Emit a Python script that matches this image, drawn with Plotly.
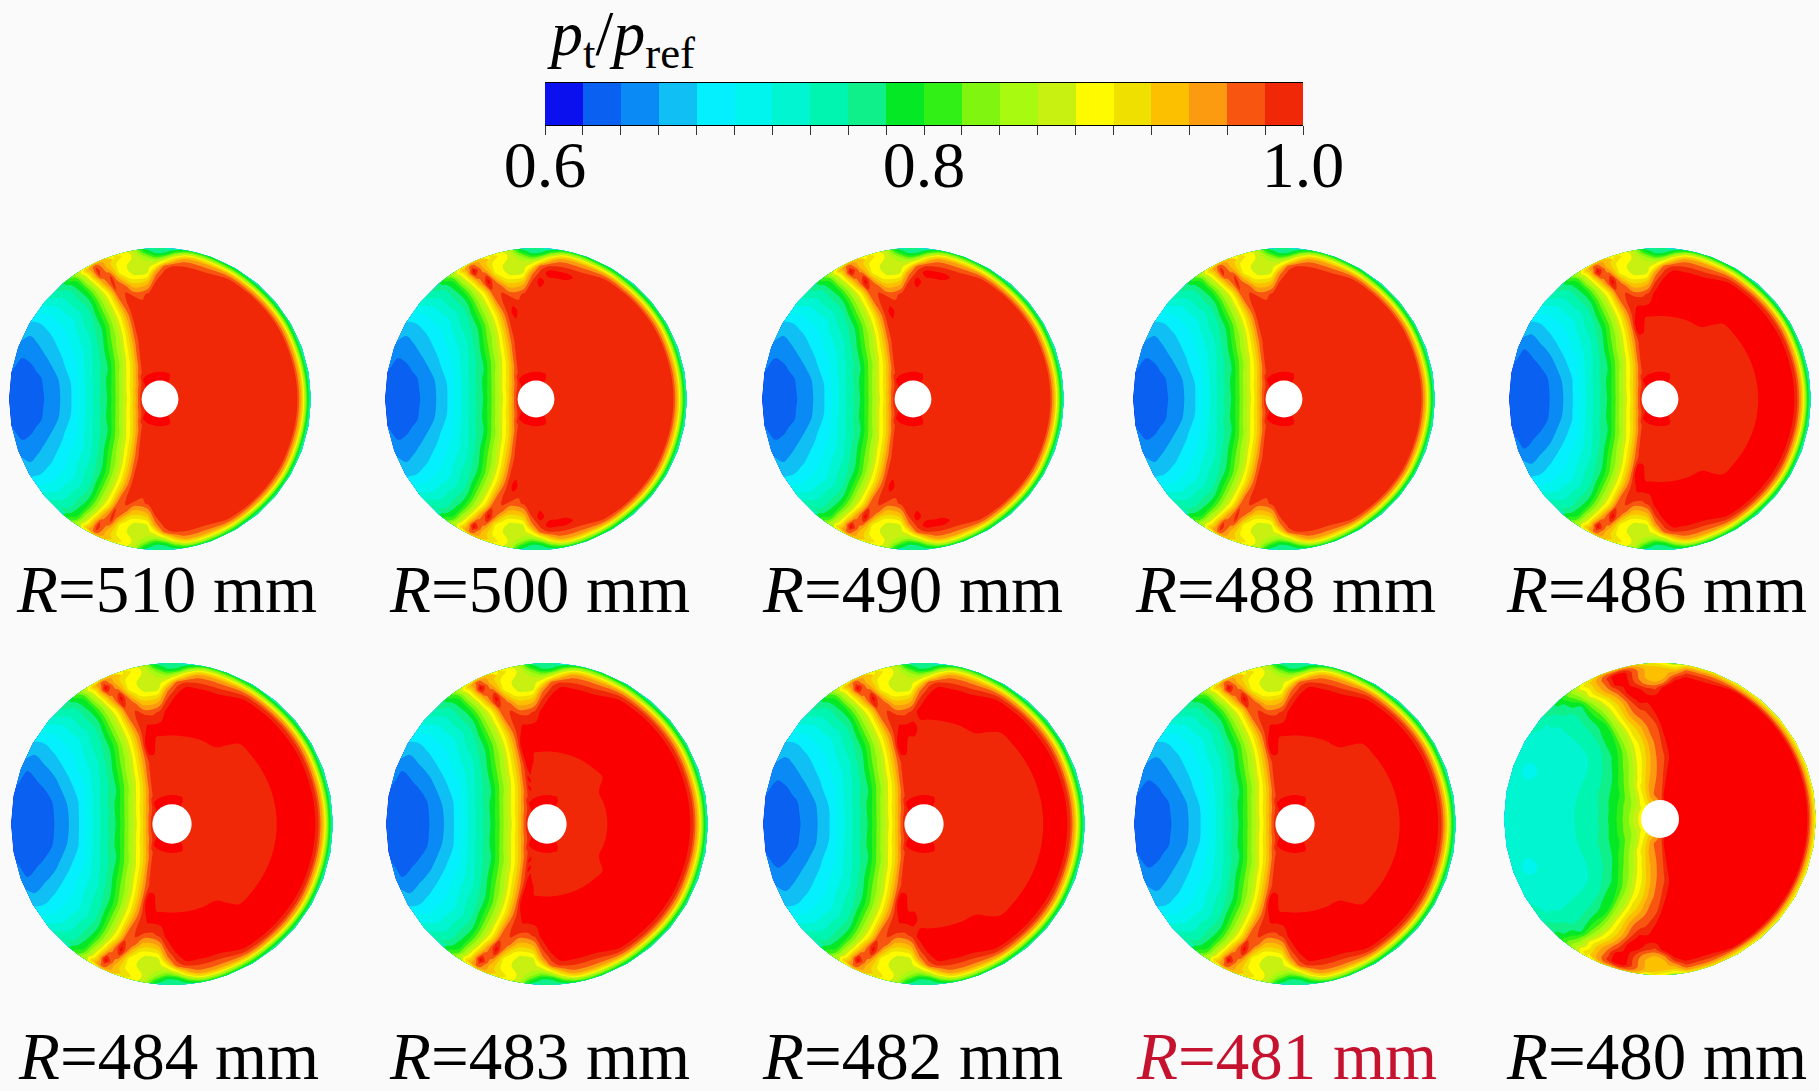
import numpy as np
import plotly.graph_objects as go

# band colours of the legend, 0.60 to 1.00 in steps of 0.02
BAND_COLORS = ['#0a10ee', '#0a60f0', '#0a8af5', '#10c0f5', '#05f0ff', '#00f5ee', '#00f5d0', '#00f5b0', '#10f08a', '#05e825',
               '#30f015', '#80f510', '#a8fa10', '#c8f010', '#fffa00', '#f0e000', '#fcc000', '#fc9a10', '#f85510', '#f02808']
ABOVE_COLOR = '#fb0000'  # the discs go past the top of the legend
BAND_EDGES = [round(0.6 + 0.02 * i, 2) for i in range(21)]
BAND_MIDS = [round(0.61 + 0.02 * i, 2) for i in range(20)]
TICK_VALS = [0.6, 0.8, 1.0]
TICK_TEXT = ['0.6', '0.8', '1.0']

LABELS = ['510', '500', '490', '488', '486', '484', '483', '482', '481', '480']

# radius (fraction of the disc radius) and angle of the table cells, upper half of a disc
RADII = [.11, .16, .2, .25, .3, .35, .4, .5, .6, .7, .78, .84, .88, .91, .94, .96, .98, 1.0]
ANGLES = [0, 10, 20, 30, 40, 50, 60, 70, 76, 80, 84, 88, 92, 96, 100, 104, 108, 112, 116, 120, 125, 130, 140, 150, 160, 170, 180]

# pt/pref, one row per angle, one column per radius
PT_TYPICAL = [
    [.99, .99, .99, .99, .99, .99, .99, .99, .99, .99, .99, .99, .99, .98, .93, .86, .79, .75],
    [.99, .99, .99, .99, .99, .99, .99, .99, .99, .99, .99, .99, .99, .98, .93, .86, .79, .75],
    [.99, .99, .99, .99, .99, .99, .99, .99, .99, .99, .99, .99, .99, .98, .93, .86, .79, .75],
    [.99, .99, .99, .99, .99, .99, .99, .99, .99, .99, .99, .99, .99, .985, .94, .87, .80, .76],
    [.99, .99, .99, .99, .99, .99, .99, .99, .99, .99, .99, .99, .99, .985, .94, .87, .80, .76],
    [.99, .99, .99, .99, .99, .99, .99, .99, .99, .99, .99, .99, .99, .985, .94, .87, .80, .76],
    [.99, .99, .99, .99, .99, .99, .99, .99, .99, .99, .99, .99, .99, .985, .95, .89, .82, .77],
    [.99, .99, .99, .99, .99, .99, .99, .99, .99, .99, .99, .99, .985, .97, .94, .90, .84, .78],
    [.99, .99, .99, .99, .99, .99, .99, .99, .99, .99, .99, .99, .985, .97, .945, .91, .85, .79],
    [.99, .99, .99, .99, .99, .99, .99, .99, .99, .99, .99, .99, .985, .97, .94, .90, .84, .78],
    [.99, .99, .99, .99, .99, .99, .99, .99, .99, .99, .99, .99, .985, .95, .90, .85, .80, .77],
    [.99, .99, .99, .99, .99, .99, .99, .99, .99, .99, .99, .985, .97, .90, .84, .79, .77, .76],
    [.99, .99, .99, .99, .99, .99, .99, .99, .99, .99, .98, .95, .895, .865, .82, .785, .77, .76],
    [.99, .99, .99, .99, .99, .99, .99, .99, .99, .985, .93, .875, .87, .865, .85, .83, .80, .78],
    [.99, .99, .99, .99, .99, .99, .99, .99, .99, .975, .92, .875, .87, .87, .875, .875, .87, .86],
    [.99, .99, .99, .99, .99, .99, .99, .99, .99, .98, .93, .885, .88, .88, .885, .89, .895, .89],
    [.99, .99, .99, .99, .99, .99, .99, .99, .985, .985, .975, .93, .90, .90, .90, .905, .915, .90],
    [.99, .99, .99, .99, .99, .985, .975, .955, .945, .96, .98, .99, .98, .955, .94, .935, .935, .92],
    [.99, .99, .99, .99, .98, .965, .945, .915, .895, .895, .90, .935, .955, .98, .99, .985, .97, .92],
    [.99, .99, .99, .98, .96, .935, .915, .88, .86, .85, .85, .855, .87, .885, .895, .905, .925, .90],
    [.99, .99, .985, .96, .93, .905, .885, .845, .815, .80, .785, .785, .79, .795, .80, .805, .82, .84],
    [.99, .99, .98, .94, .905, .88, .86, .82, .78, .76, .75, .755, .755, .755, .76, .765, .775, .78],
    [.99, .98, .95, .905, .875, .84, .815, .77, .74, .725, .71, .71, .71, .71, .715, .72, .725, .73],
    [.99, .965, .925, .885, .85, .815, .78, .745, .715, .695, .685, .678, .675, .672, .67, .67, .672, .675],
    [.99, .955, .91, .87, .83, .795, .77, .73, .695, .675, .662, .655, .65, .648, .646, .646, .65, .655],
    [.99, .945, .90, .86, .82, .785, .76, .72, .68, .655, .642, .635, .63, .628, .628, .63, .634, .64],
    [.99, .94, .895, .855, .815, .78, .76, .715, .675, .65, .638, .63, .626, .624, .622, .622, .625, .628],
]

# the R=480 mm disc has its own field
PT_480 = [
    [.99, .99, .99, .99, .99, .99, .99, .99, .99, .99, .99, .99, .99, .99, .99, .97, .93, .88],
    [.99, .99, .99, .99, .99, .99, .99, .99, .99, .99, .99, .99, .99, .99, .99, .97, .93, .88],
    [.99, .99, .99, .99, .99, .99, .99, .99, .99, .99, .99, .99, .99, .99, .99, .97, .93, .88],
    [.99, .99, .99, .99, .99, .99, .99, .99, .99, .99, .99, .99, .99, .99, .99, .97, .93, .88],
    [.99, .99, .99, .99, .99, .99, .99, .99, .99, .99, .99, .99, .99, .99, .99, .97, .93, .88],
    [.99, .99, .99, .99, .99, .99, .99, .99, .99, .99, .99, .99, .99, .99, .99, .97, .93, .88],
    [.99, .99, .99, .99, .99, .99, .99, .99, .99, .99, .99, .99, .99, .99, .99, .97, .93, .88],
    [.99, .99, .99, .99, .99, .99, .99, .99, .99, .99, .99, .99, .99, .99, .985, .97, .94, .90],
    [.99, .99, .99, .99, .99, .99, .99, .99, .99, .99, .99, .99, .99, .99, .985, .97, .94, .90],
    [.985, .99, .99, .99, .99, .99, .99, .99, .99, .99, .99, .99, .99, .99, .985, .97, .94, .90],
    [.98, .985, .985, .985, .985, .985, .985, .99, .99, .99, .99, .99, .99, .985, .95, .93, .90, .86],
    [.97, .975, .975, .975, .975, .975, .975, .985, .99, .99, .99, .99, .96, .94, .935, .93, .91, .88],
    [.96, .97, .97, .97, .965, .965, .965, .97, .98, .99, .99, .975, .94, .935, .935, .935, .92, .90],
    [.955, .97, .965, .96, .955, .95, .95, .955, .97, .985, .99, .985, .95, .94, .94, .94, .93, .91],
    [.95, .965, .96, .955, .945, .94, .935, .935, .95, .975, .99, .99, .98, .97, .97, .97, .96, .93],
    [.945, .96, .955, .945, .935, .925, .915, .91, .925, .96, .98, .99, .99, .99, .99, .99, .98, .94],
    [.94, .955, .95, .935, .92, .905, .895, .89, .905, .93, .94, .965, .985, .99, .99, .99, .975, .93],
    [.935, .945, .935, .92, .905, .89, .88, .865, .865, .89, .905, .925, .95, .96, .965, .97, .96, .93],
    [.93, .935, .925, .905, .89, .875, .86, .84, .84, .85, .865, .885, .91, .925, .93, .93, .93, .91],
    [.925, .925, .91, .90, .875, .855, .84, .815, .80, .80, .82, .84, .86, .88, .88, .89, .90, .89],
    [.92, .91, .90, .885, .86, .84, .825, .79, .785, .775, .78, .78, .78, .80, .82, .83, .84, .84],
    [.915, .90, .885, .865, .845, .825, .805, .775, .76, .755, .755, .755, .76, .77, .775, .78, .79, .79],
    [.90, .885, .86, .84, .82, .80, .78, .755, .74, .735, .735, .735, .735, .74, .74, .745, .75, .755],
    [.895, .87, .845, .825, .80, .785, .77, .745, .735, .73, .73, .73, .73, .73, .73, .73, .73, .735],
    [.895, .87, .84, .82, .795, .78, .765, .745, .735, .73, .725, .72, .715, .715, .72, .725, .73, .735],
    [.895, .87, .84, .815, .79, .775, .76, .745, .735, .73, .73, .73, .73, .73, .73, .73, .735, .735],
    [.895, .87, .84, .815, .79, .775, .76, .745, .735, .73, .73, .73, .73, .73, .73, .73, .73, .735],
]

# blue core a little stronger in some discs: angles 160, 170, 180 and radii from 0.6 out
CORE_STRONG = [
    [.69, .67, .655, .648, .645, .642, .64, .64, .645, .65],
    [.675, .65, .635, .628, .624, .622, .622, .624, .63, .635],
    [.67, .645, .632, .625, .622, .621, .621, .621, .623, .626],
]
DISC_CORE = [None, None, None, None, CORE_STRONG, CORE_STRONG, CORE_STRONG, None, None, None]

# how far out (fraction of radius, per angle) the field stays inside the top legend band
REACH_ALL = [1.0] * 27
REACH_WIDE = [1.0, 1.0, 1.0, 1.0, 1.0, 1.0, 1.0, .85, .80, .80, .78, .75, .72, .68, .62, .55, .50, .40, .30, .25, .2, .2, .2, .2, .2, .2, .2]
REACH_LARGE = [.75, .75, .75, .74, .72, .70, .66, .62, .60, .60, .60, .60, .60, .55, .52, .48, .42, .32, .25, .2, .2, .2, .2, .2, .2, .2, .2]
REACH_MID = [.66, .66, .66, .64, .62, .60, .58, .55, .55, .55, .55, .55, .52, .50, .50, .45, .40, .30, .25, .2, .2, .2, .2, .2, .2, .2, .2]
REACH_SMALL = [.38, .38, .38, .38, .40, .42, .45, .45, .45, .45, .45, .45, .45, .40, .40, .35, .30, .25, .2, .2, .2, .2, .2, .2, .2, .2, .2]
REACH_NONE = [0.0] * 27
DISC_REACH = [REACH_ALL, REACH_WIDE, REACH_WIDE, REACH_ALL, REACH_MID, REACH_MID, REACH_SMALL, REACH_LARGE, REACH_MID, REACH_NONE]

# disc centre and radius on the page, pixels
CENTER_X = [160, 536, 913, 1284, 1660, 172, 547, 924, 1295, 1660]
CENTER_Y = [399, 399, 399, 399, 399, 824, 824, 824, 824, 819]
DISC_R = [151, 151, 151, 151, 151, 161, 161, 161, 161, 156]
LABEL_X = [166, 539, 912, 1285, 1656, 168, 539, 912, 1286, 1656]
LABEL_Y = [589, 589, 589, 589, 589, 1056, 1056, 1056, 1056, 1056]

W, H = 1819, 1091
FONT = 'Liberation Serif'
BG = '#fafafa'


def stepped(colors):
    out = []
    for i, c in enumerate(colors):
        out += [[i / len(colors), c], [(i + 1) / len(colors), c]]
    return out


def stepped_levels(colors):
    # contour fills read the scale half a band lower than a heatmap does
    n = len(colors)
    out = []
    for k, c in enumerate(colors):
        out += [[0 if k == 0 else (k + .5) / n, c], [1 if k == n - 1 else (k + 1.5) / n, c]]
    return out


fig = go.Figure()
# full turn starting from the left edge
up = ANGLES
ang = np.array([360 - a for a in up[::-1]] + [360 + a for a in up[1:]], dtype=float)
rad = np.array(RADII)
grid_x = np.outer(np.cos(np.radians(ang)), rad)
grid_y = np.outer(np.sin(np.radians(ang)), rad)
shapes = []
annotations = []
layout_axes = {}
blank = dict(showgrid=False, showline=False, showticklabels='none', startline=False, endline=False,
             minorgridcount=0, smoothing=0, type='linear')

for i, name in enumerate(LABELS):
    suffix = '' if i == 0 else str(i + 1)
    xa, ya = 'x' + suffix, 'y' + suffix
    cx, cy, r = CENTER_X[i], CENTER_Y[i], DISC_R[i]
    layout_axes['xaxis' + suffix] = dict(domain=[(cx - r) / W, (cx + r) / W], range=[-1, 1], visible=False, anchor=ya)
    layout_axes['yaxis' + suffix] = dict(domain=[1 - (cy + r) / H, 1 - (cy - r) / H], range=[-1, 1], visible=False, anchor=xa)

    rows = [list(row) for row in (PT_480 if name == '480' else PT_TYPICAL)]
    if DISC_CORE[i] is not None:
        for k, core in enumerate(DISC_CORE[i]):
            rows[-3 + k][8:] = core
    for j, row in enumerate(rows):
        for k, v in enumerate(row):
            near_hole = RADII[k] < 0.2 and ANGLES[j] >= 70
            if v == .99 and (RADII[k] > DISC_REACH[i][j] or near_hole):
                row[k] = 1.01
    z = rows[::-1] + rows[1:]

    carpet_id = 'disc' + name
    fig.add_trace(go.Carpet(a=RADII, b=ang.tolist(), x=grid_x.tolist(), y=grid_y.tolist(), carpet=carpet_id,
                            aaxis=blank, baxis=blank, xaxis=xa, yaxis=ya))
    fig.add_trace(go.Contourcarpet(
        a=RADII, b=ang.tolist(), z=z, carpet=carpet_id, xaxis=xa, yaxis=ya,
        autocontour=False,
        contours=dict(start=0.6, end=1.0, size=0.02, coloring='fill', showlines=False),
        line=dict(width=0),
        colorscale=stepped_levels(BAND_COLORS + [ABOVE_COLOR]), zmin=0.6, zmax=1.02, autocolorscale=False,
        showscale=False,
    ))
    # white centre hole
    shapes.append(dict(type='circle', xref=xa, yref=ya, x0=-0.122, x1=0.122, y0=-0.122, y1=0.122,
                       fillcolor='white', line=dict(width=0), layer='above'))
    annotations.append(dict(
        text='<i>R</i>=%s mm' % name, xref='paper', yref='paper', showarrow=False,
        x=LABEL_X[i] / W, y=1 - LABEL_Y[i] / H, xanchor='center', yanchor='middle',
        font=dict(family=FONT, size=67, color='#c4122f' if name == '481' else 'black'),
    ))

# legend bar
fig.add_trace(go.Heatmap(x=BAND_EDGES, y=[0, 1], z=[BAND_MIDS], xaxis='x11', yaxis='y11',
                         colorscale=stepped(BAND_COLORS), zmin=0.6, zmax=1.0, showscale=False, hoverinfo='skip'))
layout_axes['xaxis11'] = dict(
    domain=[545 / W, 1303 / W], range=[0.6, 1.0], anchor='y11', side='bottom', showgrid=False, zeroline=False,
    showline=True, linecolor='black', linewidth=1, mirror=True,
    ticks='outside', ticklen=9, tickwidth=1, tickcolor='#333333',
    tickmode='array', tickvals=TICK_VALS, ticktext=TICK_TEXT, ticklabelstandoff=-27,
    tickfont=dict(family=FONT, size=66, color='black'),
    minor=dict(tickmode='array', tickvals=BAND_EDGES, ticks='outside', ticklen=9, tickwidth=1, tickcolor='#333333', showgrid=False),
)
layout_axes['yaxis11'] = dict(domain=[1 - 125 / H, 1 - 83 / H], range=[0, 1], visible=False, anchor='x11')

annotations.append(dict(
    text='<i>p</i><sub>t</sub>/<i>p</i><sub>ref</sub>', xref='paper', yref='paper', showarrow=False,
    x=545 / W, y=1 - 38 / H, xanchor='left', yanchor='middle',
    font=dict(family=FONT, size=64, color='black'),
))

fig.update_layout(
    width=W, height=H, margin=dict(l=0, r=0, t=0, b=0, autoexpand=False),
    paper_bgcolor=BG, plot_bgcolor=BG, showlegend=False,
    shapes=shapes, annotations=annotations, **layout_axes,
)
fig.write_html('out.html', config={'displayModeBar': False},
               post_script="document.body.style.margin='0';document.body.style.background='%s';" % BG)
